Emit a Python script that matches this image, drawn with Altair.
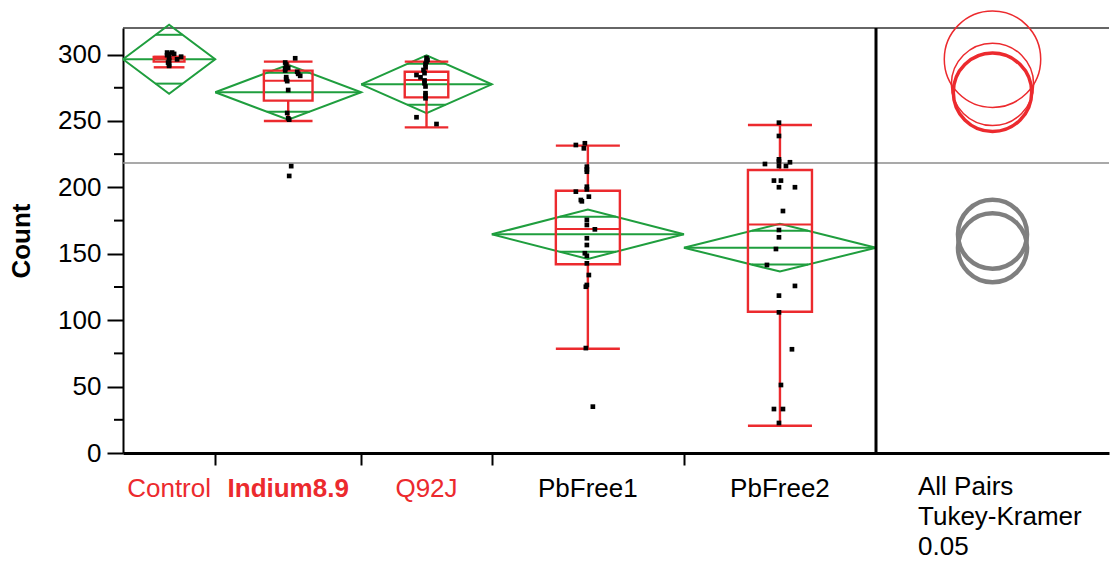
import altair as alt
import numpy as np
import pandas as pd

# ---------------- data ----------------
groups = ["Control", "Indium8.9", "Q92J", "PbFree1", "PbFree2"]
n_obs = [12, 19, 17, 25, 25]
means = [296.5, 271.6, 277.6, 164.7, 154.6]
ci_half = [26.0, 20.7, 21.8, 18.6, 18.0]
q1 = [294.7, 265.3, 267.8, 142.1, 106.4]
medians = [296.8, 280.3, 280.9, 168.7, 172.1]
q3 = [298.2, 287.9, 287.1, 197.5, 213.1]
whisk_lo = [290.4, 250.0, 245.2, 78.5, 20.5]
whisk_hi = [298.2, 294.7, 294.7, 231.4, 247.0]
circle_r = [36.3, 29.5, 31.0, 26.0, 26.0]
tukey_class = ["same", "selected", "same", "different", "different"]
grand_mean = 218.4

y_labels = [0, 50, 100, 150, 200, 250, 300]
y_minor = [25, 75, 125, 175, 225, 275]
note = "All Pairs\nTukey-Kramer\n0.05"

vals_control = [301.5, 301.5, 300.5, 300.5, 299.5, 298.4, 296.4, 297.5, 295.5, 294.0, 292.5, 291.5]
jit_control = [-2, 3, 0, 5, -2, 12, 8, 0, 0, -1, 0, 0]
vals_indium = [297.2, 294.0, 292.5, 291.0, 290.0, 289.5, 288.0, 287.0, 285.5, 284.0, 283.0,
               281.5, 280.0, 273.3, 256.0, 252.0, 251.0, 216.0, 208.6]
jit_indium = [7, -3, -2, -2, 0, -3, -3, 9, 10, 12, -2, -2, -1, 0, -1, 0, 1, 3, 1]
vals_q92j = [297.5, 296.0, 294.5, 293.0, 290.5, 288.4, 286.0, 284.6, 282.9, 280.5, 278.4,
             276.0, 270.9, 269.0, 267.1, 252.8, 247.7]
jit_q92j = [0, 1, 0, -1, -1, -3, -2, -10, -6, -2, -2, -1, -1, -1, -1, -10, 10]
vals_pb1 = [233.2, 231.9, 229.4, 215.6, 213.5, 211.8, 200.5, 198.5, 196.8, 193.0, 190.5, 189.5,
            175.5, 171.7, 168.4, 161.7, 156.6, 150.4, 148.5, 142.8, 134.0, 126.5, 125.2, 79.0, 34.9]
jit_pb1 = [-3, -12, -4, -1, -1, -1, -1, -1, -12, 1, -7, -6, -1, -1, 7, -1, -1, -3, -1, -1, 1, -1, -2, -2, 5]
vals_pb2 = [248.7, 238.7, 221.1, 219.5, 218.9, 217.6, 216.1, 216.1, 205.1, 205.1, 200.1, 200.1,
            182.2, 167.9, 162.4, 153.6, 141.6, 125.8, 118.5, 105.9, 78.1, 51.2, 33.1, 33.1, 22.6]
jit_pb2 = [-1, -1, -1, -1, 10, -15, 6, -1, -6, 1, -1, 15, 3, -1, -1, -4, -13, 15, -1, -1, 12, 1, -6, 3, -1]

point_values = [vals_control, vals_indium, vals_q92j, vals_pb1, vals_pb2]
point_jitter = [jit_control, jit_indium, jit_q92j, jit_pb1, jit_pb2]

# ---------------- layout / style ----------------
W_MAIN, W_PANEL, H = 753, 233, 425
W = W_MAIN + W_PANEL
Y_MAX = 320
N = sum(n_obs)
X_MAX = N * W / W_MAIN
PX_X = W / X_MAX
PX_Y = H / Y_MAX
RED = "#ec2a2e"
GREEN = "#1f9e3e"
GRAY = "#7f7f7f"
FONT = "Liberation Sans"

# ---------------- tables ----------------
g = pd.DataFrame(dict(group=groups, n=n_obs, mean=means, ci=ci_half, q1=q1, med=medians,
                      q3=q3, lo=whisk_lo, hi=whisk_hi, r=circle_r, cls=tukey_class))
g["x1"] = g["n"].cumsum()
g["x0"] = g["x1"] - g["n"]
g["xc"] = (g["x0"] + g["x1"]) / 2
g["bx0"] = g["xc"] - g["n"] / 6
g["bx1"] = g["xc"] + g["n"] / 6
s2 = np.sqrt(2)
g["ovw"] = (1 - 1 / s2) / 2 * g["n"]
g["ox0"] = g["xc"] - g["ovw"]
g["ox1"] = g["xc"] + g["ovw"]
g["ohi"] = g["mean"] + g["ci"] / s2
g["olo"] = g["mean"] - g["ci"] / s2
g["cx"] = N + (X_MAX - N) / 2
g["sz"] = (2 * g["r"] * PX_Y) ** 2

boundaries = list(g["x1"][:-1])

diam_rows = []
for _, r in g.iterrows():
    verts = [(r.x0, r["mean"]), (r.xc, r["mean"] + r.ci), (r.x1, r["mean"]),
             (r.xc, r["mean"] - r.ci), (r.x0, r["mean"])]
    for k, (vx, vy) in enumerate(verts):
        diam_rows.append(dict(group=r.group, k=k, x=vx, y=vy))
diam = pd.DataFrame(diam_rows)

pt_rows = []
for gi, (vals, jit) in enumerate(zip(point_values, point_jitter)):
    for v, j in zip(vals, jit):
        pt_rows.append(dict(group=groups[gi], y=v, x=g.loc[gi, "xc"] + j / PX_X))
pts = pd.DataFrame(pt_rows)

xscale = alt.Scale(domain=[0, X_MAX], nice=False, zero=False)
yscale = alt.Scale(domain=[0, Y_MAX], nice=False, zero=True)
xaxis = alt.Axis(values=boundaries, labels=False, ticks=True, tickSize=12, tickWidth=2,
                 tickColor="black", domainWidth=3, domainColor="black", grid=False, title=None)
yaxis = alt.Axis(values=y_labels, tickSize=16, tickWidth=2, tickColor="black",
                 domainColor="black", domainWidth=2, labelFontSize=26, labelFont=FONT,
                 labelColor="black", labelPadding=6, grid=False, title="Count",
                 titleFontSize=26, titleFont=FONT, titleFontWeight="bold", titleColor="black",
                 titleX=-89)


def X(f):
    return alt.X(f, type="quantitative", scale=xscale, axis=xaxis)


def Y(f):
    return alt.Y(f, type="quantitative", scale=yscale, axis=yaxis)


base_g = alt.Chart(g)

grand = alt.Chart(pd.DataFrame({"v": [grand_mean]})).mark_rule(
    color="#8c8c8c", strokeWidth=1.5).encode(y=Y("v"))
topline = alt.Chart(pd.DataFrame({"v": [Y_MAX]})).mark_rule(
    color="#333333", strokeWidth=1.5).encode(y=Y("v"))

diamonds = alt.Chart(diam).mark_line(color=GREEN, strokeWidth=2).encode(
    x=X("x"), y=Y("y"), detail="group:N", order="k:Q")
meanline = base_g.mark_rule(color=GREEN, strokeWidth=2).encode(
    x=X("x0"), x2="x1", y=Y("mean"))
ov_hi = base_g.mark_rule(color=GREEN, strokeWidth=2).encode(x=X("ox0"), x2="ox1", y=Y("ohi"))
ov_lo = base_g.mark_rule(color=GREEN, strokeWidth=2).encode(x=X("ox0"), x2="ox1", y=Y("olo"))

box = base_g.mark_rect(fillOpacity=0, stroke=RED, strokeWidth=2.4).encode(
    x=X("bx0"), x2="bx1", y=Y("q1"), y2="q3")
medl = base_g.mark_rule(color=RED, strokeWidth=2).encode(x=X("bx0"), x2="bx1", y=Y("med"))
wh_up = base_g.mark_rule(color=RED, strokeWidth=2.4).encode(x=X("xc"), y=Y("q3"), y2="hi")
wh_dn = base_g.mark_rule(color=RED, strokeWidth=2.4).encode(x=X("xc"), y=Y("lo"), y2="q1")
cap_up = base_g.mark_rule(color=RED, strokeWidth=2.4).encode(x=X("bx0"), x2="bx1", y=Y("hi"))
cap_dn = base_g.mark_rule(color=RED, strokeWidth=2.4).encode(x=X("bx0"), x2="bx1", y=Y("lo"))

points = alt.Chart(pts).mark_square(color="black", size=22, opacity=1).encode(
    x=X("x"), y=Y("y"))


def circle_layer(cls, color, sw):
    return base_g.transform_filter(alt.datum.cls == cls).mark_point(
        shape="circle", filled=False, opacity=1, color=color, strokeWidth=sw).encode(
        x=X("cx"), y=Y("mean"), size=alt.Size("sz:Q", scale=None))


circ_diff = circle_layer("different", GRAY, 4.5)
circ_same = circle_layer("same", RED, 1.5)
circ_sel = circle_layer("selected", RED, 3.5)

divider = alt.Chart(pd.DataFrame({"v": [N]})).mark_rule(color="black", strokeWidth=3).encode(
    x=X("v"))
minor = alt.Chart(pd.DataFrame({"v": y_minor})).mark_rule(color="black", strokeWidth=2).encode(
    y=Y("v"), x=alt.value(-9), x2=alt.value(0))

lab_color = alt.condition(alt.datum.cls == "different", alt.value("black"), alt.value(RED))
labels_norm = base_g.transform_filter(alt.datum.cls != "selected").mark_text(
    font=FONT, fontSize=26, baseline="alphabetic", align="center").encode(
    x=X("xc"), y=alt.value(469), text="group:N", color=lab_color)
labels_bold = base_g.transform_filter(alt.datum.cls == "selected").mark_text(
    font=FONT, fontSize=26, fontWeight="bold", baseline="alphabetic", align="center").encode(
    x=X("xc"), y=alt.value(469), text="group:N", color=lab_color)

note_txt = alt.Chart(pd.DataFrame({"t": [note]})).mark_text(
    font=FONT, fontSize=26, baseline="alphabetic", align="left", lineBreak="\n",
    lineHeight=30, color="black").encode(
    x=alt.value(795), y=alt.value(467), text="t:N")

chart = alt.layer(
    grand, topline, diamonds, meanline, ov_hi, ov_lo,
    box, medl, wh_up, wh_dn, cap_up, cap_dn, points,
    circ_diff, circ_same, circ_sel,
    divider, minor, labels_norm, labels_bold, note_txt,
).properties(
    width=W, height=H,
    autosize=alt.AutoSizeParams(type="none"),
    padding={"left": 123, "top": 28, "right": 1, "bottom": 109},
    background="white",
).configure_view(stroke=None)

chart.save("out.html", embed_options={"renderer": "svg", "actions": False})
